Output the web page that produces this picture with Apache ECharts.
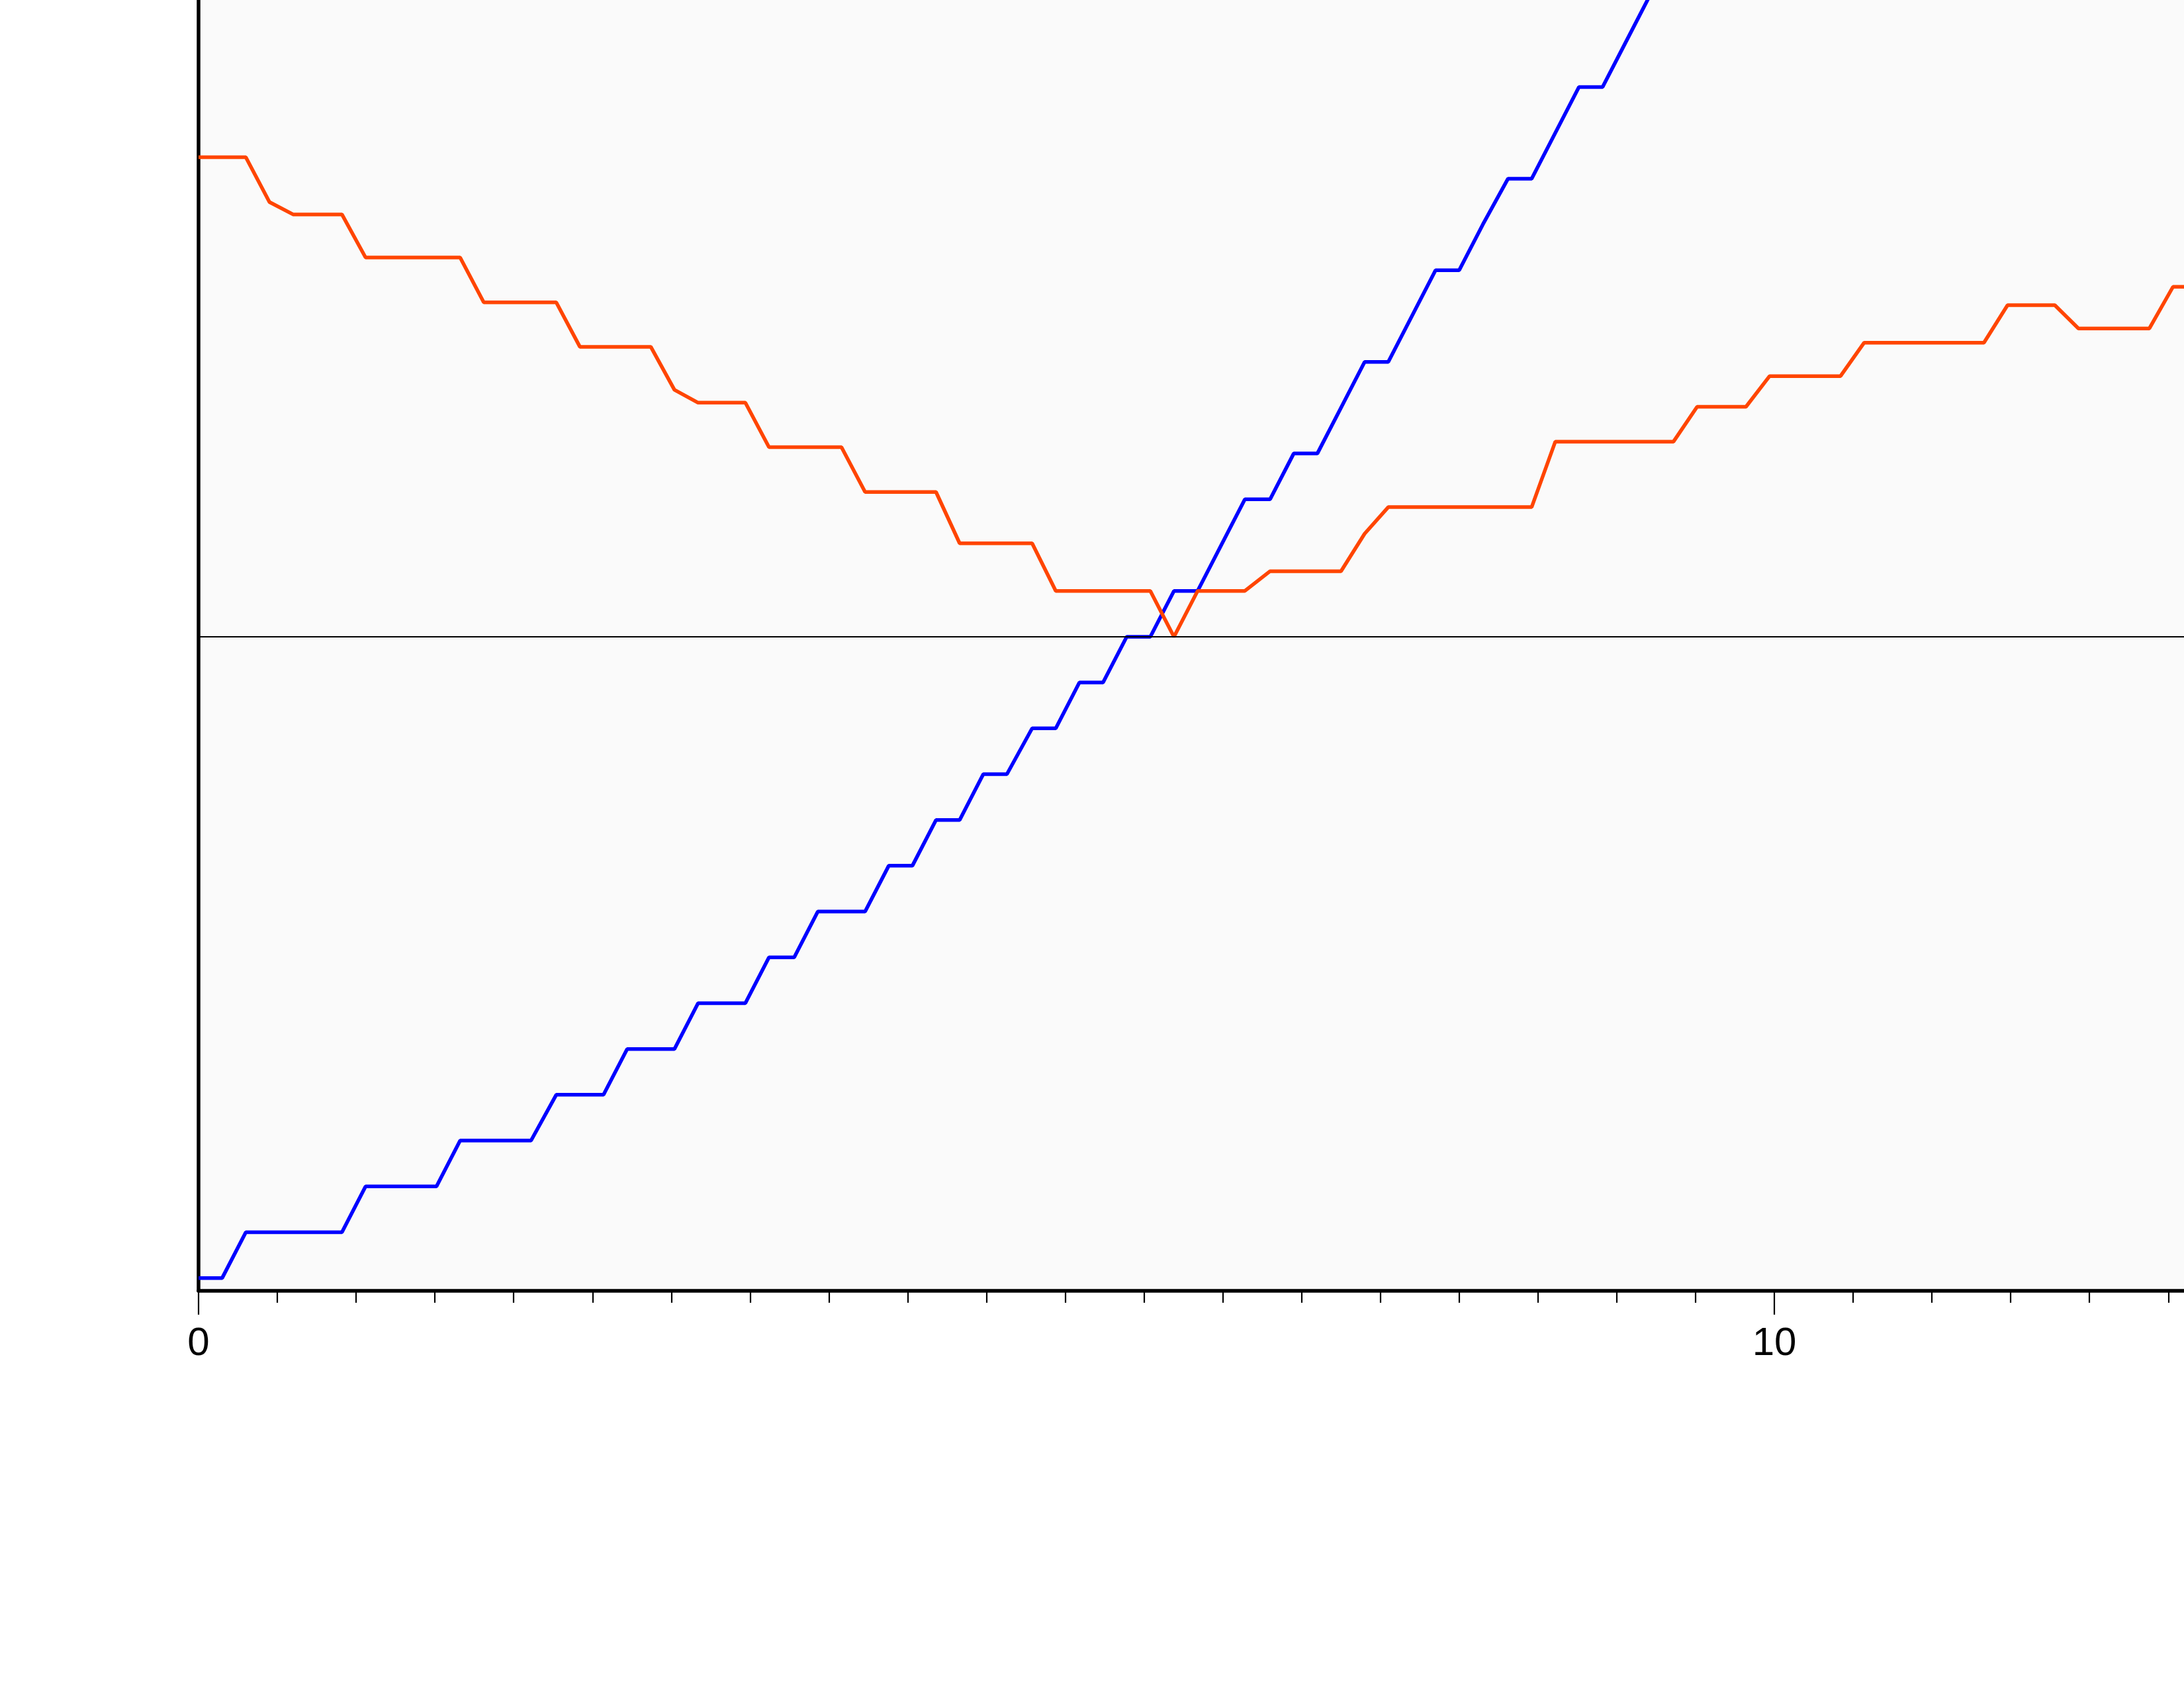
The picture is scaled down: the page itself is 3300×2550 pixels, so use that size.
<!DOCTYPE html>
<html>
<head>
<meta charset="utf-8">
<script src="https://cdn.jsdelivr.net/npm/echarts@6/dist/echarts.min.js"></script>
<style>
html,body{margin:0;padding:0;background:#ffffff;overflow:hidden;width:3300px;height:2550px}
#chart{position:absolute;left:0;top:-422px;width:5100px;height:2972px}
</style>
</head>
<body>
<div id="chart"></div>
<script>
// sample positions along the horizontal axis
const sampleX = [0, 0.15, 0.30, 0.45, 0.60, 0.76, 0.91, 1.06, 1.21, 1.36, 1.51, 1.66, 1.81, 1.96, 2.11, 2.27, 2.42, 2.57, 2.72, 2.87,
  3.02, 3.17, 3.32, 3.47, 3.62, 3.78, 3.93, 4.08, 4.23, 4.38, 4.53, 4.68, 4.83, 4.98, 5.13, 5.29, 5.44, 5.59, 5.74, 5.89,
  6.04, 6.19, 6.34, 6.49, 6.64, 6.80, 6.95, 7.10, 7.25, 7.40, 7.55, 7.70, 7.85, 8.00, 8.15, 8.31, 8.46, 8.61, 8.76, 8.91,
  9.06, 9.21, 9.36, 9.51, 9.66, 9.82, 9.97, 10.12, 10.27, 10.42, 10.57, 10.72, 10.87, 11.02, 11.17, 11.33, 11.48, 11.63, 11.78, 11.93,
  12.08, 12.23, 12.38, 12.53, 12.68];

// blue staircase (values beyond the top edge are not visible)
const blueY = [-14, -14, -13, -13, -13, -13, -13, -12, -12, -12, -12, -11, -11, -11, -11, -10, -10, -10, -9, -9,
  -9, -8, -8, -8, -7, -7, -6, -6, -6, -5, -5, -4, -4, -3, -3, -2, -2, -1, -1, 0,
  0, 1, 1, 2, 3, 3, 4, 4, 5, 6, 6, 7, 8, 8, 9, 10, 10, 11, 12, 12,
  13, 14];

// orange-red staircase
const orangeY = [10.47, 10.47, 10.47, 9.49, 9.22, 9.22, 9.22, 8.28, 8.28, 8.28, 8.28, 8.28, 7.30, 7.30, 7.30, 7.30, 6.33, 6.33, 6.33, 6.33,
  5.39, 5.11, 5.11, 5.11, 4.14, 4.14, 4.14, 4.14, 3.16, 3.16, 3.16, 3.16, 2.04, 2.04, 2.04, 2.04, 1.0, 1.0, 1.0, 1.0,
  1.0, 0, 1.0, 1.0, 1.0, 1.43, 1.43, 1.43, 1.43, 2.25, 2.83, 2.83, 2.83, 2.83, 2.83, 2.83, 2.83, 4.26, 4.26, 4.26,
  4.26, 4.26, 4.26, 5.02, 5.02, 5.02, 5.69, 5.69, 5.69, 5.69, 6.42, 6.42, 6.42, 6.42, 6.42, 6.42, 7.24, 7.24, 7.24, 6.73,
  6.73, 6.73, 6.73, 7.64, 7.64];

const xTickLabels = ['0', '10', '20'];

const chart = echarts.init(document.getElementById('chart'), null, {renderer: 'canvas', devicePixelRatio: 1});

const bluePairs = blueY.map((y, i) => [sampleX[i], y]);
const orangePairs = orangeY.map((y, i) => [sampleX[i], y]);

chart.setOption({
  animation: false,
  backgroundColor: '#ffffff',
  grid: {
    show: true,
    left: 300,
    top: 0,
    width: 4762,
    height: 2372,
    backgroundColor: '#fafafa',
    borderWidth: 0,
    containLabel: false
  },
  xAxis: {
    type: 'value',
    min: 0,
    max: 20,
    interval: 10,
    axisLine: {show: true, onZero: false, lineStyle: {color: '#000000', width: 5.5}},
    axisTick: {show: true, length: 36, lineStyle: {color: '#000000', width: 2.2}},
    minorTick: {show: true, splitNumber: 20, length: 18, lineStyle: {color: '#000000', width: 2.2}},
    splitLine: {show: false},
    minorSplitLine: {show: false},
    axisLabel: {
      show: true,
      margin: 50,
      color: '#000000',
      fontSize: 60,
      fontFamily: 'Liberation Sans, Arial, sans-serif',
      formatter: function (v) { return xTickLabels[Math.round(v / 10)] || ''; }
    }
  },
  yAxis: {
    type: 'value',
    min: -14.28,
    max: 20,
    axisLine: {show: true, onZero: false, lineStyle: {color: '#000000', width: 5.5}},
    axisTick: {show: false},
    axisLabel: {show: false},
    splitLine: {show: false}
  },
  series: [
    {
      type: 'line',
      data: bluePairs,
      showSymbol: false,
      symbol: 'none',
      lineStyle: {color: '#0000ff', width: 5.5},
      z: 3,
      markLine: {
        silent: true,
        symbol: 'none',
        label: {show: false},
        lineStyle: {color: '#000000', width: 2, type: 'solid'},
        data: [{yAxis: 0}]
      }
    },
    {
      type: 'line',
      data: orangePairs,
      showSymbol: false,
      symbol: 'none',
      lineStyle: {color: '#ff4500', width: 5.5},
      z: 4
    }
  ]
});
</script>
</body>
</html>
